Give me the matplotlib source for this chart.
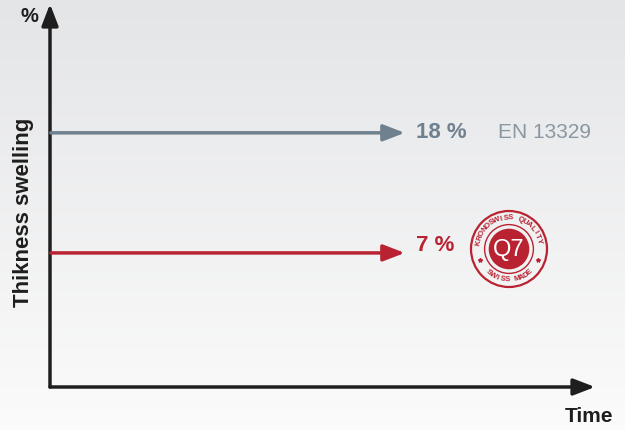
import matplotlib.pyplot as plt
import numpy as np

plt.rcParams['font.family'] = ['Liberation Sans', 'DejaVu Sans']

# data
levels = [18, 7]
labels = ['18 %', '7 %']
colors = ['#6f808e', '#b92331']
norm_label = 'EN 13329'
t_end = 65.1
ylim = (-5.28, 29.8)
xlim = (0, 100)

fig = plt.figure(figsize=(6.25, 4.3), dpi=100)

# background gradient
bg = fig.add_axes([0, 0, 1, 1], zorder=-1)
grad = np.linspace(0, 1, 256).reshape(-1, 1)
top = np.array([0.894, 0.898, 0.906])
bot = np.array([0.985, 0.985, 0.985])
img = top + (bot - top) * grad[..., None]
bg.imshow(img, aspect='auto', extent=[0, 1, 0, 1])
bg.axis('off')

ax = fig.add_axes([50/625, 43/430, 545/625, 383/430])
ax.set_xlim(*xlim)
ax.set_ylim(*ylim)
ax.axis('off')

axis_col = '#1e1e1e'
ap = dict(arrowstyle='-|>,head_length=1.3,head_width=0.5', lw=2.5,
          color=axis_col, shrinkA=0, shrinkB=0)
ax.annotate('', xy=(0, 1), xytext=(0, 0), xycoords='axes fraction',
            arrowprops=ap)
ax.annotate('', xy=(1, 0), xytext=(0, 0), xycoords='axes fraction',
            arrowprops=ap)

for lvl, lab, c, dy in zip(levels, labels, colors, [0, 5]):
    ax.annotate('', xy=(t_end, lvl), xytext=(0.15, lvl),
                arrowprops=dict(arrowstyle='-|>,head_length=1.3,head_width=0.5',
                                lw=2.5, color=c, shrinkA=0, shrinkB=0))
    ax.annotate(lab, xy=(t_end, lvl), xytext=(8, dy), textcoords='offset points',
                fontsize=16, fontweight='bold', color=c, va='center', ha='left')

ax.annotate(norm_label, xy=(t_end, levels[0]), xytext=(67, 0),
            textcoords='offset points', fontsize=15, color='#8a97a2',
            va='center', ha='left')

fig.text(29/625, 1 - 17/430, '%', fontsize=14.5, fontweight='bold',
         color=axis_col, ha='center', va='center')
fig.text(589/625, 1 - 416/430, 'Time', fontsize=15, fontweight='bold',
         color=axis_col, ha='center', va='center')
fig.text(24/625, 1 - 212/430, 'Thikness swelling', fontsize=16,
         fontweight='bold', color=axis_col, rotation=90, ha='center',
         va='center')

# stamp
red = colors[1]
st = fig.add_axes([469/625, 141/430, 80/625, 80/430])
st.set_xlim(-1, 1)
st.set_ylim(-1, 1)
st.set_aspect('equal')
st.axis('off')
st.add_patch(plt.Circle((0, 0), 0.95, fill=False, ec=red, lw=1.6))
st.add_patch(plt.Circle((0, 0), 0.61, fill=False, ec=red, lw=1.0))
st.add_patch(plt.Circle((0, 0), 0.49, color=red))
st.text(0, -0.02, 'Q7', color='white', fontsize=17, ha='center', va='center')

top_txt = 'KRONOSWISS QUALITY'
ang = np.linspace(168, 14, len(top_txt))
for ch, a in zip(top_txt, ang):
    r = np.radians(a)
    st.text(0.78*np.cos(r), 0.78*np.sin(r), ch, fontsize=5.6,
            fontweight='bold', color=red, rotation=a - 90,
            ha='center', va='center')
bot_txt = 'SWISS MADE'
ang = np.linspace(230, 312, len(bot_txt))
for ch, a in zip(bot_txt, ang):
    r = np.radians(a)
    st.text(0.78*np.cos(r), 0.78*np.sin(r), ch, fontsize=5.6,
            fontweight='bold', color=red, rotation=a + 90,
            ha='center', va='center')
for a in [200, 340]:
    r = np.radians(a)
    st.plot(0.78*np.cos(r), 0.78*np.sin(r), marker='*', ms=3, color=red)

fig.savefig('out.png', dpi=100)
